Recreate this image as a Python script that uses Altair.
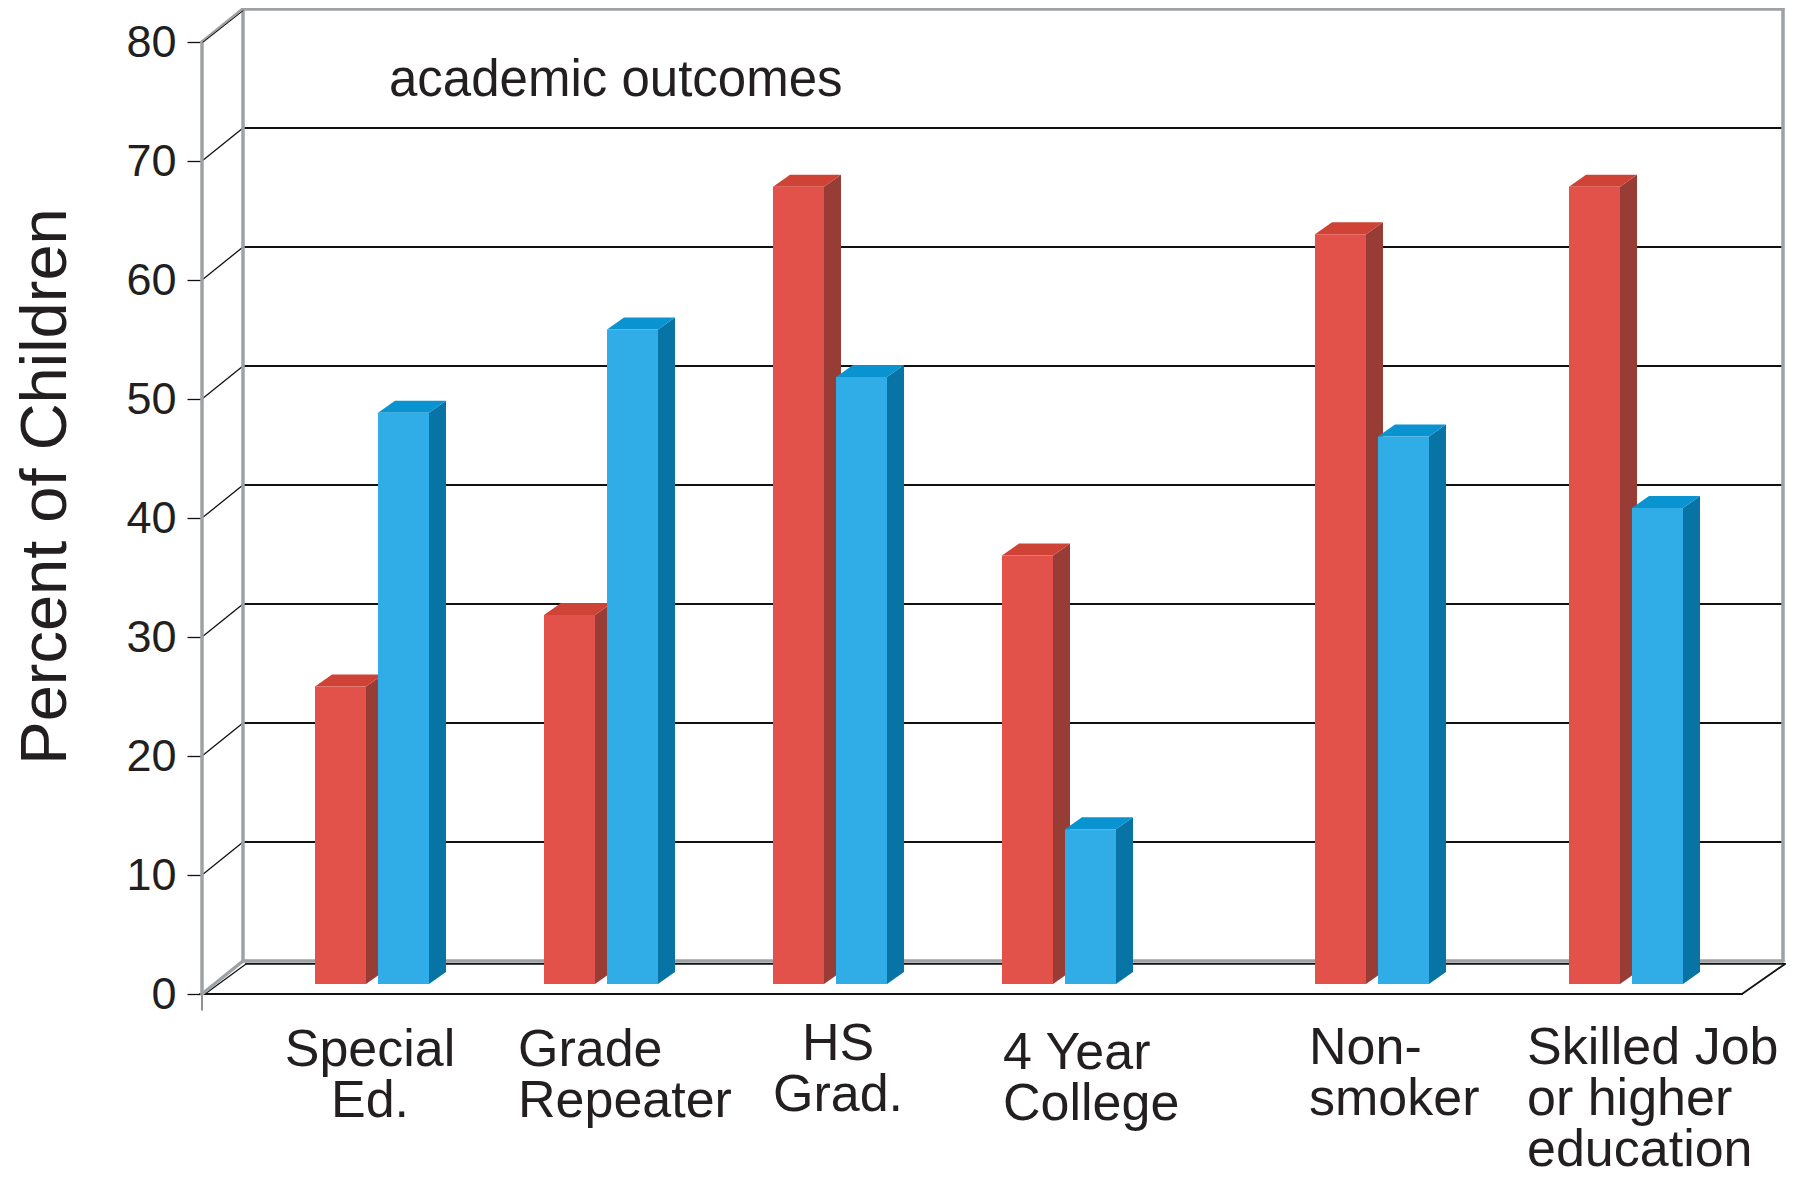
import altair as alt
import pandas as pd

# ---------------- data ----------------
categories = ["Special Ed.", "Grade Repeater", "HS Grad.", "4 Year College",
              "Non-smoker", "Skilled Job or higher education"]
category_labels = ["Special\nEd.", "Grade\nRepeater", "HS\nGrad.", "4 Year\nCollege",
                   "Non-\nsmoker", "Skilled Job\nor higher\neducation"]
series_names = ["Series 1", "Series 2"]
red_values = [25, 31, 67, 36, 63, 67]
blue_values = [48, 55, 51, 13, 46, 40]
y_ticks = [0, 10, 20, 30, 40, 50, 60, 70, 80]
panel_title = "academic outcomes"
y_title = "Percent of Children"

# ---------------- layout (page pixels) ----------------
PX = 11.9            # pixels per percent
Y0 = 994             # page y of the front zero line
PLOT_LEFT, PLOT_TOP = 202, 9
W, H = 1586, 1160
WALL_DX, WALL_DY = 41, 33
FLOOR_RIGHT = 1742
WALL_LEFT = PLOT_LEFT + WALL_DX
WALL_RIGHT = FLOOR_RIGHT + WALL_DX
BAR_W, BAR_PAIR_OFF = 51, 63
BAR_DX, BAR_DY = 17, 12
BAR_BASE_PX = 10
sections = [(315, 229, 4), (1315, 254, 2)]   # start, pitch, count
label_layout = [("center", -2, 1066), ("left", -83, 1066), ("center", 8, 1060),
                ("left", -56, 1069), ("left", -63, 1064), ("left", -99, 1064)]

RED = {"front": "#e3524a", "side": "#983c36", "top": "#cf4336"}
BLUE = {"front": "#30ade6", "side": "#0873a5", "top": "#0993d0"}
GRAY = "#9ea2a5"
INK = "#111111"
TXT = "#231f20"
FONT = "Liberation Sans"


def u(page_y):
    return (Y0 - page_y) / PX


D = WALL_DY / PX
BD = BAR_DY / PX
BASE = BAR_BASE_PX / PX

group_left = []
for start, pitch, count in sections:
    for k in range(count):
        group_left.append(start + pitch * k)

front_rows, side_rows, top_rows = [], [], []
for i, cat in enumerate(categories):
    for s, (vals, col, off) in enumerate([(red_values, RED, 0), (blue_values, BLUE, BAR_PAIR_OFF)]):
        v = vals[i]
        l = group_left[i] + off
        r = l + BAR_W
        top = BASE + v
        bid = f"{i}-{s}"
        front_rows.append(dict(cat=cat, series=series_names[s], value=v, x=l, x2=r,
                               y=BASE, y2=top, fill=col["front"]))
        side_rows += [dict(id=bid, x=r, y=top, lo=BASE, fill=col["side"]),
                      dict(id=bid, x=r + BAR_DX, y=top + BD, lo=BASE + BD, fill=col["side"])]
        top_rows += [dict(id=bid, x=l, y=top, lo=top, fill=col["top"]),
                     dict(id=bid, x=l + BAR_DX, y=top + BD, lo=top, fill=col["top"]),
                     dict(id=bid, x=r, y=top + BD, lo=top, fill=col["top"]),
                     dict(id=bid, x=r + BAR_DX, y=top + BD, lo=top + BD, fill=col["top"])]

front_df = pd.DataFrame(front_rows)
side_df = pd.DataFrame(side_rows)
top_df = pd.DataFrame(top_rows)

# frame lines
top_v = y_ticks[-1]
lines = []
def ln(x, y, x2, y2, c, w):
    lines.append(dict(x=x, y=y, x2=x2, y2=y2, c=c, w=w))

for v in y_ticks[1:-1]:
    ln(WALL_LEFT, v + D, WALL_RIGHT, v + D, INK, 2.0)
    ln(PLOT_LEFT, v, WALL_LEFT, v + D, INK, 1.3)
# floor
ln(PLOT_LEFT + 3, 0, WALL_LEFT + 3, D - 0.25, INK, 1.3)
ln(WALL_LEFT + 3, D - 0.25, WALL_RIGHT + 2, D - 0.25, INK, 1.8)
ln(FLOOR_RIGHT, 0, WALL_RIGHT + 2, D - 0.25, INK, 1.8)
ln(PLOT_LEFT - 2, 0, FLOOR_RIGHT, 0, INK, 1.8)
ln(PLOT_LEFT, 0, PLOT_LEFT, -16 / PX, "#555555", 1.3)
# gray wall edges
ln(PLOT_LEFT, 0, PLOT_LEFT, top_v, GRAY, 3.5)
ln(PLOT_LEFT, top_v, WALL_LEFT, top_v + D, GRAY, 3.5)
ln(PLOT_LEFT, 0, WALL_LEFT, D, GRAY, 3.5)
ln(WALL_LEFT, D, WALL_LEFT, top_v + D, GRAY, 3.5)
ln(WALL_LEFT, top_v + D, WALL_RIGHT, top_v + D, GRAY, 3.5)
ln(WALL_RIGHT, D, WALL_RIGHT, top_v + D, GRAY, 3.5)
ln(WALL_LEFT, D, WALL_RIGHT, D, GRAY, 3.5)
ln(PLOT_LEFT + 1, top_v, WALL_LEFT, top_v + D - 0.15, INK, 1.0)
lines_df = pd.DataFrame(lines)

label_rows = []
for i, txt in enumerate(category_labels):
    align, dx, base_y = label_layout[i]
    cx = group_left[i] + (BAR_PAIR_OFF + BAR_W) / 2 + dx
    label_rows.append(dict(text=txt, x=cx, y=u(base_y), align=align))
label_df = pd.DataFrame(label_rows)

title_df = pd.DataFrame([dict(text=panel_title, x=389, y=u(96))])
axis_df = pd.DataFrame({"x": [PLOT_LEFT] * len(y_ticks), "y": y_ticks})

# ---------------- scales & shared axis ----------------
xs = alt.Scale(domain=[PLOT_LEFT, PLOT_LEFT + W], nice=False, zero=False)
ys = alt.Scale(domain=[u(PLOT_TOP + H), u(PLOT_TOP)], nice=False, zero=False)
yaxis = alt.Axis(
    values=y_ticks, domain=False, grid=False, ticks=True, tickSize=15,
    tickColor=INK, tickWidth=1.3, labelFontSize=45, labelFont=FONT,
    labelColor=TXT, labelPadding=11, labelBaseline="middle",
    title=y_title, titleFont=FONT, titleFontSize=65, titleFontWeight="normal",
    titleColor=TXT, titleAngle=270, titleX=65 - PLOT_LEFT, titleY=486 - PLOT_TOP,
    titleAlign="center", titleBaseline="alphabetic", orient="left")

X = lambda f: alt.X(f, scale=xs, axis=None)
Y = lambda f: alt.Y(f, scale=ys, axis=yaxis)

axis_layer = alt.Chart(axis_df).mark_point(opacity=0).encode(x=X("x:Q"), y=Y("y:Q"))

rules = alt.Chart(lines_df).mark_rule(strokeCap="round").encode(
    x=X("x:Q"), x2="x2:Q", y=Y("y:Q"), y2="y2:Q",
    color=alt.Color("c:N", scale=None),
    strokeWidth=alt.StrokeWidth("w:Q", scale=None),
)

sides = alt.Chart(side_df).mark_area(orient="vertical", interpolate="linear").encode(
    x=X("x:Q"), y=Y("y:Q"), y2="lo:Q", detail="id:N",
    color=alt.Color("fill:N", scale=None),
)

tops = alt.Chart(top_df).mark_area(orient="vertical", interpolate="linear").encode(
    x=X("x:Q"), y=Y("y:Q"), y2="lo:Q", detail="id:N",
    color=alt.Color("fill:N", scale=None),
)

fronts = alt.Chart(front_df).mark_rect().encode(
    x=X("x:Q"), x2="x2:Q", y=Y("y:Q"), y2="y2:Q",
    color=alt.Color("fill:N", scale=None),
    tooltip=["cat:N", "series:N", "value:Q"],
)

lab_center = alt.Chart(label_df).transform_filter("datum.align == 'center'").mark_text(
    align="center", baseline="alphabetic", fontSize=52, font=FONT, color=TXT,
    lineBreak="\n", lineHeight=51).encode(x=X("x:Q"), y=Y("y:Q"), text="text:N")

lab_left = alt.Chart(label_df).transform_filter("datum.align == 'left'").mark_text(
    align="left", baseline="alphabetic", fontSize=52, font=FONT, color=TXT,
    lineBreak="\n", lineHeight=51).encode(x=X("x:Q"), y=Y("y:Q"), text="text:N")

title_text = alt.Chart(title_df).mark_text(
    align="left", baseline="alphabetic", fontSize=51, font=FONT, color=TXT).encode(
    x=X("x:Q"), y=Y("y:Q"), text="text:N")

chart = alt.layer(axis_layer, rules, sides, tops, fronts, lab_center, lab_left, title_text).properties(
    width=W, height=H,
    autosize=alt.AutoSizeParams(type="none"),
    padding={"left": PLOT_LEFT - 8, "top": PLOT_TOP - 8, "right": 0, "bottom": 8},
    background="white",
).configure_view(stroke=None)

chart.save("out.html", embed_options={"renderer": "svg", "actions": False})
